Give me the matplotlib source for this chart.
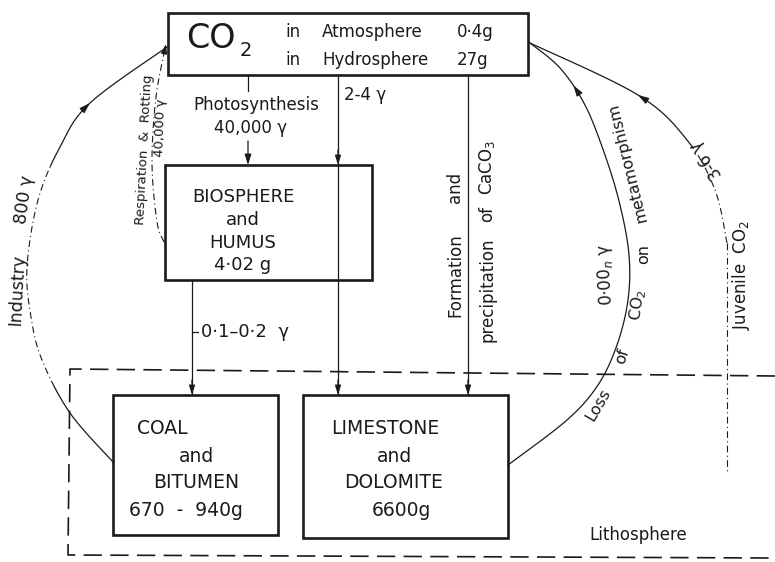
import numpy as np
import matplotlib.pyplot as plt
from matplotlib.patches import Rectangle

plt.rcParams['font.family'] = ['DejaVu Sans']

# reservoirs and their carbon contents
co2_spheres = ['Atmosphere', 'Hydrosphere']
co2_masses = ['0·4g', '27g']
bio_lines = ['BIOSPHERE', 'and', 'HUMUS', '4·02 g']
coal_lines = ['COAL', 'and', 'BITUMEN', '670  -  940g']
lime_lines = ['LIMESTONE', 'and', 'DOLOMITE', '6600g']

# fluxes (gamma per year)
photo_rate = '40,000 γ'
resp_rate = '40,000 γ'
industry_rate = '800 γ'
carb_rate = '2-4 γ'
burial_rate = '0·1–0·2  γ'
meta_rate = '0·00$_n$ γ'
juvenile_rate = '3-6 γ'

ink = '#1a1a1a'


def smooth(pts, n=40):
    # catmull-rom through guide points
    p = np.asarray(pts, float)
    p = np.vstack([p[0], p, p[-1]])
    t = np.linspace(0, 1, n)[:, None]
    out = []
    for i in range(1, len(p) - 2):
        p0, p1, p2, p3 = p[i - 1], p[i], p[i + 1], p[i + 2]
        out.append(0.5 * (2 * p1 + (-p0 + p2) * t + (2 * p0 - 5 * p1 + 4 * p2 - p3) * t ** 2
                          + (-p0 + 3 * p1 - 3 * p2 + p3) * t ** 3))
    return np.vstack(out)


def head(ax, p_from, p_to, ms=9):
    ax.annotate('', xy=p_to, xytext=p_from,
                arrowprops=dict(arrowstyle='-|>,head_length=0.7,head_width=0.22', color=ink,
                                lw=0.9, shrinkA=0, shrinkB=0, mutation_scale=ms))


def mid_head(ax, c, target):
    i = np.argmin(np.hypot(c[:, 0] - target[0], c[:, 1] - target[1]))
    i = max(2, min(i, len(c) - 1))
    head(ax, c[i - 2], c[i])


def txt(x, y, s, size=12, rot=0, ha='center'):
    ax.text(x, y, s, fontsize=size, rotation=rot, ha=ha, va='center', color=ink,
            rotation_mode='anchor' if ha != 'center' else 'default')


fig = plt.figure(figsize=(7.75, 5.62), dpi=100)
ax = fig.add_axes([0, 0, 1, 1])
ax.set_xlim(0, 775)
ax.set_ylim(562, 0)
ax.axis('off')

# boxes
for (x0, y0, x1, y1) in [(168, 13, 528, 75), (165, 165, 372, 280),
                         (113, 395, 278, 535), (303, 395, 508, 538)]:
    ax.add_patch(Rectangle((x0, y0), x1 - x0, y1 - y0, fill=False, lw=1.9, ec=ink, zorder=3))

# lithosphere frame
ax.plot([775, 70, 68, 770], [376, 369, 555, 558], color=ink, lw=1.2, dashes=(11, 5))

# CO2 box text
txt(186, 39, 'CO', size=24, ha='left')
txt(240, 50, '2', size=14, ha='left')
for k, y in enumerate([32, 60]):
    txt(285, y, 'in', ha='left')
    txt(322, y, co2_spheres[k], ha='left')
    txt(457, y, co2_masses[k], ha='left')

# biosphere text
for s, y in zip(bio_lines, [197, 220, 243, 265]):
    txt(243, y, s, size=13)

# coal text
txt(137, 428, coal_lines[0], size=13.5, ha='left')
for s, x, y in zip(coal_lines[1:], [197, 196, 186], [457, 483, 510]):
    txt(x, y, s, size=13.5)

# limestone text
txt(331, 428, lime_lines[0], size=13.5, ha='left')
for s, x, y in zip(lime_lines[1:], [395, 394, 401], [457, 483, 510]):
    txt(x, y, s, size=13.5)

txt(638, 535, 'Lithosphere', size=12)

# photosynthesis
ax.plot([248, 248], [75, 91], color=ink, lw=0.9)
head(ax, (248, 141), (248, 165))
txt(256, 105, 'Photosynthesis', size=12)
txt(250, 128, photo_rate, size=12)

# carbonate line through the biosphere box
ax.plot([338, 338], [75, 395], color=ink, lw=0.9)
head(ax, (338, 150), (338, 165), ms=8)
head(ax, (338, 380), (338, 395), ms=8)
txt(344, 95, carb_rate, size=12, ha='left')

# CaCO3 precipitation
ax.plot([468, 468], [75, 395], color=ink, lw=0.9)
head(ax, (468, 380), (468, 395), ms=8)
txt(455, 275, 'Formation', size=12, rot=90)
txt(455, 187, 'and', size=12, rot=90)
txt(487, 290, 'precipitation', size=12, rot=90)
txt(487, 214, 'of', size=12, rot=90)
txt(487, 167, 'CaCO$_3$', size=12, rot=90)

# burial to coal
ax.plot([192, 192], [280, 395], color=ink, lw=0.9)
head(ax, (192, 380), (192, 395), ms=8)
ax.plot([192, 198], [332, 332], color=ink, lw=0.9)
txt(201, 332, burial_rate, size=13, ha='left')

# industry arc
ind = smooth([(113, 462), (70, 413), (42, 360), (31, 317), (27, 267), (38, 200),
              (60, 147), (90, 103), (167, 47)])
ax.plot(ind[:60, 0], ind[:60, 1], color=ink, lw=0.9)
ax.plot(ind[59:225, 0], ind[59:225, 1], color=ink, lw=0.8, dashes=(6, 3, 1, 3))
ax.plot(ind[224:, 0], ind[224:, 1], color=ink, lw=0.9)
mid_head(ax, ind, (90, 103))
txt(17, 290, 'Industry', size=12.5, rot=87)
txt(24, 200, industry_rate, size=12.5, rot=82)

# respiration arc
resp = smooth([(164, 242), (157, 222), (152, 163), (156, 97), (166, 44)])
ax.plot(resp[:, 0], resp[:, 1], color=ink, lw=0.8, dashes=(6, 3, 1, 3))
head(ax, resp[-6], resp[-1], ms=8)
txt(144, 150, 'Respiration  &  Rotting', size=9.5, rot=87)
txt(161, 128, resp_rate, size=9.5, rot=88)

# metamorphism arc
loss = smooth([(508, 465), (567, 420), (598, 385), (617, 345), (628, 300), (629, 255),
               (620, 205), (605, 155), (585, 105), (560, 68), (530, 43)])
ax.plot(loss[:, 0], loss[:, 1], color=ink, lw=0.9)
mid_head(ax, loss, (572, 86))
txt(598, 405, 'Loss', size=11.5, rot=60)
txt(622, 356, 'of', size=11.5, rot=72)
txt(638, 305, 'CO$_2$', size=11.5, rot=82)
txt(644, 254, 'on', size=11.5, rot=90)
txt(627, 162, 'metamorphism', size=11.5, rot=104)
txt(606, 275, meta_rate, size=12, rot=93)

# juvenile CO2
juv = smooth([(727, 243), (715, 190), (687, 140), (638, 95), (530, 43)])
ax.plot(juv[:75, 0], juv[:75, 1], color=ink, lw=0.8, dashes=(6, 3, 1, 3))
ax.plot(juv[74:, 0], juv[74:, 1], color=ink, lw=0.9)
mid_head(ax, juv, (638, 97))
ax.plot([727, 727], [243, 472], color=ink, lw=0.8, dashes=(6, 3, 1, 3))
txt(707, 160, juvenile_rate, size=12, rot=125)
txt(741, 275, 'Juvenile  CO$_2$', size=12, rot=90)

fig.savefig('out.png', dpi=100, facecolor='white')
